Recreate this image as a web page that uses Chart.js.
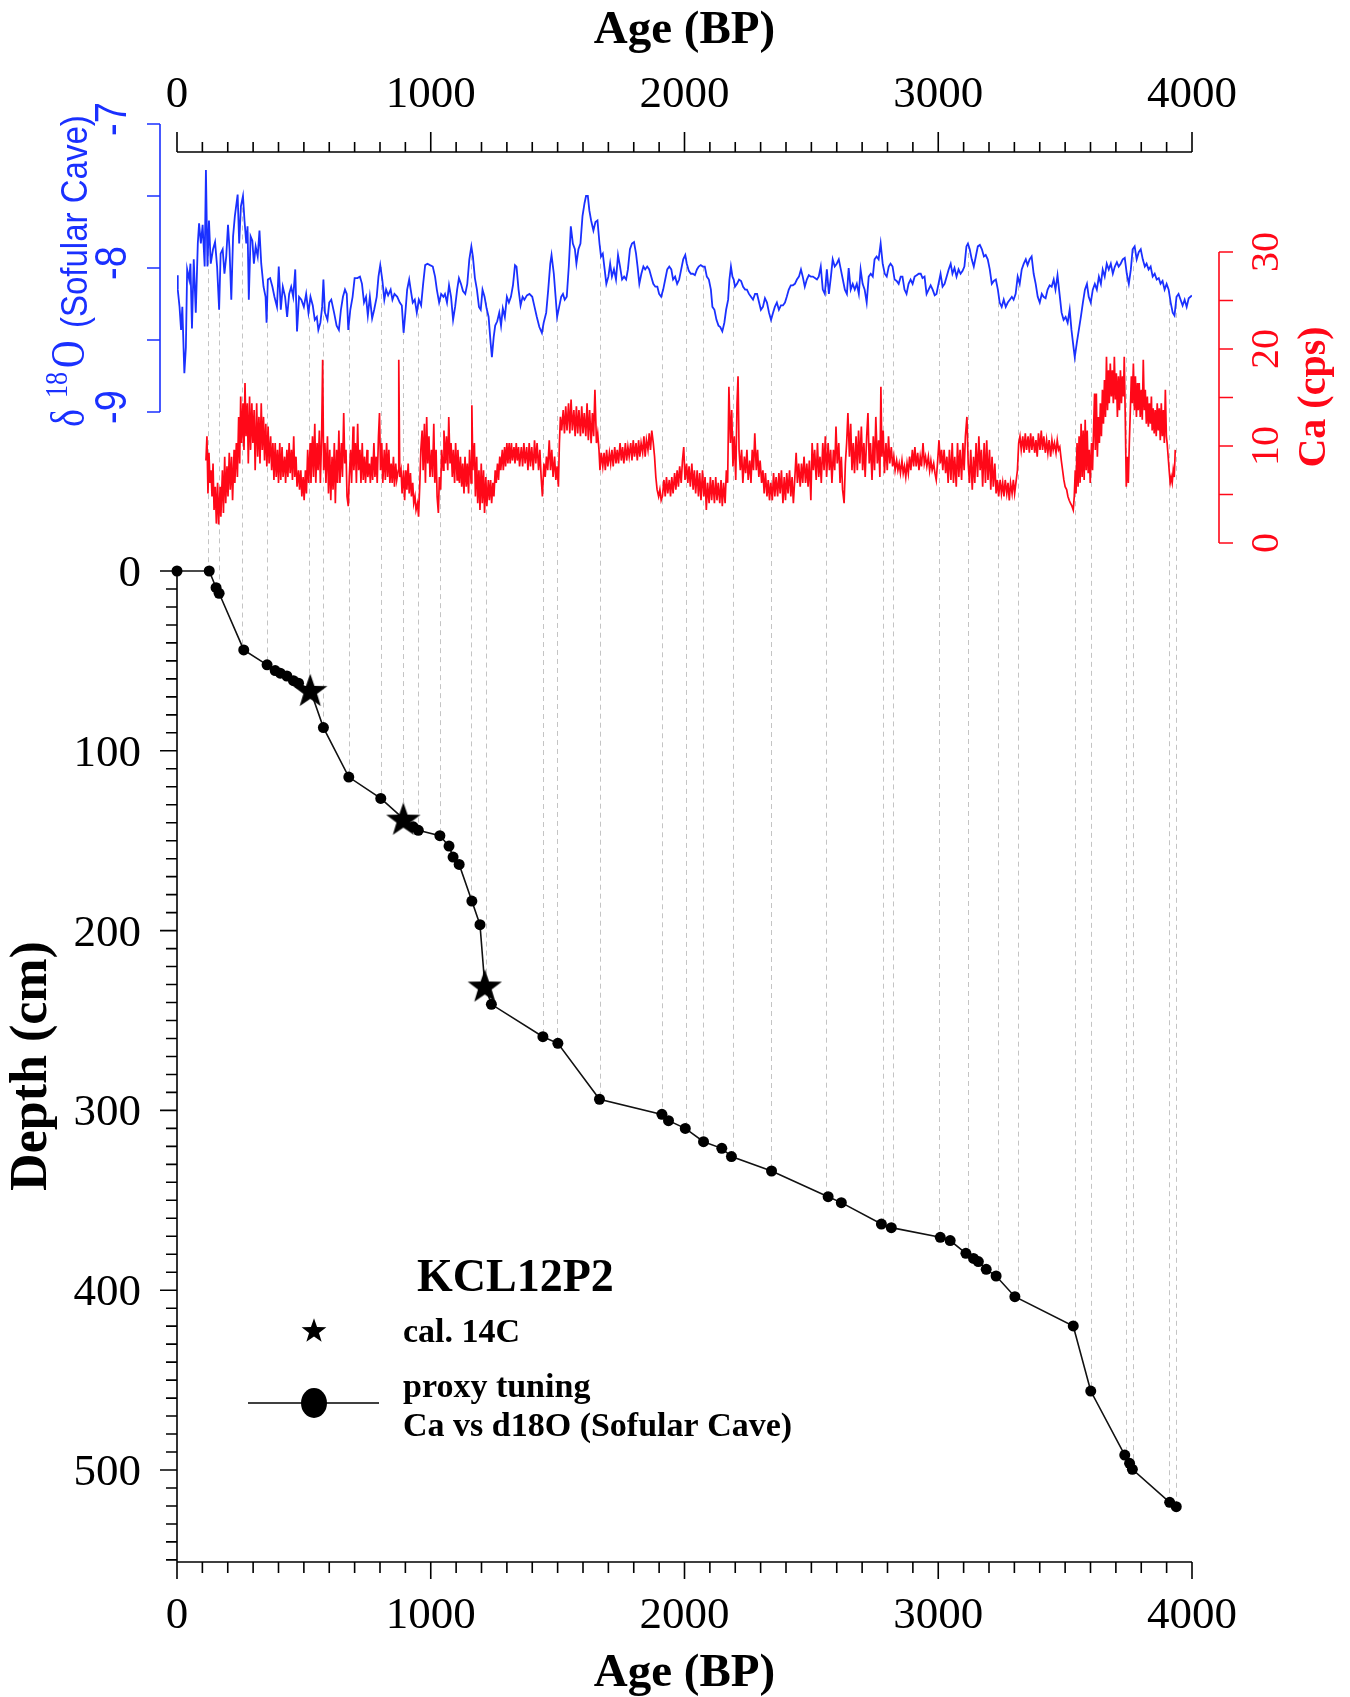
<!DOCTYPE html>
<html>
<head>
<meta charset="utf-8">
<script src="https://cdn.jsdelivr.net/npm/chart.js@4/dist/chart.umd.min.js"></script>
<style>
  html, body { margin: 0; padding: 0; background: #fff; }
  #wrap { width: 1350px; height: 1697px; }
</style>
</head>
<body>
<div id="wrap"><canvas id="chart" width="1350" height="1697"></canvas></div>
<script>
// Sofular Cave d18O [age BP, permil]
const d18O = [
  [0,-8.05],[3,-8.15],[10,-8.27],[16,-8.43],[21,-8.27],[27,-8.62],[29,-8.73],[35,-8.55],[40,-8.01],[48,-8.08],
  [53,-7.97],[59,-8.42],[66,-7.94],[74,-8.31],[82,-7.83],[87,-7.69],[94,-7.83],[101,-7.70],[109,-7.99],[114,-7.32],
  [120,-7.99],[126,-7.67],[133,-7.97],[142,-7.87],[150,-7.82],[158,-7.99],[166,-8.29],[172,-7.90],[180,-7.87],[187,-8.04],
  [194,-7.92],[201,-7.70],[207,-7.87],[214,-8.22],[221,-7.78],[228,-7.64],[239,-7.49],[245,-7.83],[252,-7.57],[260,-7.50],
  [266,-7.67],[273,-7.83],[278,-7.71],[283,-8.22],[290,-7.78],[297,-7.81],[303,-7.97],[310,-7.85],[318,-7.92],[325,-7.74],
  [332,-7.97],[341,-8.13],[349,-8.20],[353,-8.38],[358,-8.08],[367,-8.07],[376,-8.13],[384,-8.20],[394,-8.27],[401,-7.99],
  [409,-8.29],[417,-8.13],[426,-8.20],[434,-8.34],[442,-8.18],[450,-8.13],[458,-8.20],[466,-8.01],[473,-8.44],[481,-8.20],
  [490,-8.22],[500,-8.27],[509,-8.18],[518,-8.31],[526,-8.20],[535,-8.26],[543,-8.36],[551,-8.34],[557,-8.43],[565,-8.38],
  [572,-8.27],[577,-8.08],[583,-8.31],[593,-8.36],[600,-8.24],[608,-8.22],[619,-8.31],[629,-8.40],[638,-8.43],[646,-8.29],
  [654,-8.20],[662,-8.15],[669,-8.18],[675,-8.43],[683,-8.29],[692,-8.20],[700,-8.07],[711,-8.07],[721,-8.06],[729,-8.11],
  [737,-8.24],[745,-8.20],[752,-8.33],[760,-8.20],[769,-8.35],[777,-8.29],[787,-8.20],[794,-8.06],[801,-7.98],[809,-8.08],
  [817,-8.22],[824,-8.15],[832,-8.19],[842,-8.15],[849,-8.22],[857,-8.18],[868,-8.20],[878,-8.24],[886,-8.26],[893,-8.45],
  [900,-8.31],[907,-8.15],[915,-8.08],[921,-8.15],[929,-8.24],[937,-8.22],[945,-8.31],[953,-8.22],[962,-8.26],[970,-8.11],
  [978,-7.98],[987,-7.97],[997,-7.98],[1008,-7.99],[1017,-8.06],[1024,-8.15],[1033,-8.24],[1041,-8.18],[1050,-8.20],[1056,-8.18],
  [1064,-8.24],[1072,-8.12],[1080,-8.20],[1088,-8.36],[1096,-8.27],[1104,-8.15],[1111,-8.07],[1119,-8.11],[1127,-8.16],[1136,-8.18],
  [1144,-8.11],[1152,-7.94],[1160,-7.85],[1166,-7.92],[1174,-8.07],[1182,-8.15],[1190,-8.27],[1197,-8.29],[1204,-8.15],[1212,-8.20],
  [1220,-8.28],[1228,-8.34],[1236,-8.52],[1241,-8.62],[1248,-8.48],[1254,-8.40],[1262,-8.37],[1270,-8.31],[1277,-8.40],[1284,-8.28],
  [1292,-8.34],[1300,-8.20],[1308,-8.24],[1316,-8.20],[1324,-8.12],[1332,-7.98],[1338,-7.99],[1346,-8.15],[1354,-8.26],[1362,-8.20],
  [1369,-8.22],[1379,-8.19],[1389,-8.18],[1400,-8.20],[1409,-8.27],[1418,-8.34],[1428,-8.41],[1438,-8.45],[1445,-8.38],[1455,-8.31],
  [1463,-8.15],[1471,-7.97],[1476,-7.91],[1485,-8.04],[1492,-8.20],[1498,-8.34],[1506,-8.27],[1514,-8.20],[1521,-8.18],[1528,-8.22],
  [1536,-8.20],[1544,-7.99],[1552,-7.71],[1560,-7.83],[1568,-7.87],[1574,-7.97],[1582,-7.87],[1590,-7.83],[1598,-7.64],[1606,-7.55],
  [1612,-7.50],[1619,-7.50],[1625,-7.60],[1632,-7.67],[1641,-7.74],[1649,-7.68],[1657,-7.67],[1665,-7.83],[1671,-7.92],[1678,-7.90],
  [1684,-7.99],[1692,-8.11],[1700,-8.06],[1707,-7.97],[1714,-8.06],[1722,-8.01],[1730,-8.08],[1738,-7.91],[1746,-7.99],[1754,-8.08],
  [1762,-8.06],[1770,-8.08],[1777,-8.01],[1785,-7.87],[1793,-7.83],[1801,-7.82],[1809,-7.90],[1815,-7.99],[1822,-8.11],[1830,-8.04],
  [1838,-7.99],[1845,-8.01],[1853,-7.99],[1861,-8.01],[1869,-8.06],[1877,-8.11],[1885,-8.13],[1893,-8.13],[1900,-8.18],[1908,-8.20],
  [1916,-8.15],[1924,-8.08],[1932,-8.01],[1940,-7.99],[1948,-8.01],[1955,-8.08],[1963,-8.06],[1971,-8.11],[1979,-8.08],[1987,-8.01],
  [1995,-7.94],[2003,-7.91],[2009,-7.97],[2017,-8.02],[2025,-8.04],[2033,-8.04],[2041,-8.05],[2049,-8.01],[2056,-7.99],[2064,-7.98],
  [2072,-7.99],[2080,-7.99],[2088,-8.06],[2096,-8.08],[2104,-8.15],[2110,-8.27],[2118,-8.29],[2126,-8.36],[2134,-8.40],[2141,-8.41],
  [2149,-8.44],[2157,-8.38],[2164,-8.29],[2172,-8.22],[2177,-8.08],[2183,-7.99],[2189,-8.06],[2194,-8.08],[2199,-8.13],[2207,-8.11],
  [2215,-8.08],[2223,-8.09],[2231,-8.13],[2239,-8.15],[2246,-8.15],[2254,-8.18],[2262,-8.20],[2270,-8.22],[2278,-8.18],[2286,-8.18],
  [2294,-8.24],[2301,-8.29],[2309,-8.27],[2317,-8.21],[2325,-8.24],[2333,-8.31],[2341,-8.36],[2349,-8.31],[2356,-8.27],[2364,-8.24],
  [2372,-8.29],[2380,-8.26],[2388,-8.26],[2396,-8.24],[2403,-8.20],[2411,-8.15],[2419,-8.12],[2427,-8.12],[2435,-8.11],[2443,-8.08],
  [2451,-8.06],[2459,-8.01],[2466,-8.06],[2474,-8.13],[2482,-8.08],[2490,-8.05],[2498,-8.06],[2506,-8.06],[2514,-8.07],[2522,-8.08],
  [2529,-8.06],[2537,-7.99],[2545,-8.15],[2553,-8.18],[2561,-8.01],[2569,-8.18],[2577,-8.06],[2584,-7.94],[2592,-7.99],[2600,-7.97],
  [2608,-7.94],[2616,-8.01],[2624,-8.08],[2632,-8.15],[2640,-8.18],[2647,-8.00],[2655,-8.15],[2663,-8.11],[2671,-8.15],[2679,-8.11],
  [2687,-8.18],[2694,-8.01],[2702,-8.11],[2710,-8.15],[2718,-8.24],[2726,-8.06],[2734,-8.04],[2742,-8.06],[2749,-7.94],[2757,-7.92],
  [2765,-7.94],[2773,-7.83],[2781,-7.97],[2789,-8.04],[2797,-8.06],[2805,-7.99],[2812,-7.97],[2820,-7.99],[2828,-8.08],[2836,-8.09],
  [2844,-8.11],[2852,-8.06],[2859,-8.06],[2867,-8.15],[2875,-8.18],[2883,-8.11],[2891,-8.08],[2899,-8.11],[2907,-8.06],[2915,-8.05],
  [2923,-8.04],[2931,-8.04],[2938,-8.07],[2946,-8.06],[2954,-8.18],[2962,-8.15],[2970,-8.12],[2978,-8.15],[2986,-8.19],[2993,-8.18],
  [3001,-8.11],[3009,-8.04],[3017,-8.13],[3025,-8.11],[3033,-8.06],[3041,-8.01],[3049,-7.97],[3056,-8.04],[3064,-8.00],[3072,-8.06],
  [3080,-8.01],[3088,-8.04],[3096,-8.02],[3103,-7.99],[3111,-7.85],[3117,-7.83],[3124,-7.87],[3132,-7.94],[3140,-7.99],[3148,-7.92],
  [3156,-7.85],[3164,-7.84],[3172,-7.87],[3180,-7.92],[3187,-7.91],[3195,-7.94],[3203,-8.01],[3211,-8.11],[3219,-8.09],[3227,-8.08],
  [3235,-8.15],[3242,-8.24],[3250,-8.27],[3258,-8.22],[3266,-8.27],[3274,-8.24],[3282,-8.22],[3290,-8.20],[3297,-8.22],[3305,-8.18],
  [3313,-8.06],[3321,-8.11],[3329,-8.01],[3337,-7.97],[3345,-7.94],[3352,-7.98],[3360,-7.94],[3368,-7.92],[3376,-8.04],[3384,-8.11],
  [3392,-8.20],[3400,-8.24],[3408,-8.18],[3415,-8.20],[3423,-8.21],[3431,-8.15],[3439,-8.12],[3447,-8.13],[3455,-8.08],[3462,-8.15],
  [3470,-8.05],[3478,-8.18],[3486,-8.31],[3494,-8.36],[3502,-8.34],[3510,-8.38],[3518,-8.29],[3525,-8.43],[3533,-8.55],[3538,-8.62],
  [3546,-8.52],[3554,-8.43],[3562,-8.34],[3570,-8.24],[3578,-8.15],[3586,-8.11],[3593,-8.20],[3601,-8.24],[3609,-8.15],[3617,-8.11],
  [3625,-8.15],[3633,-8.06],[3641,-8.11],[3648,-8.01],[3656,-8.06],[3664,-7.97],[3672,-8.01],[3680,-7.97],[3688,-8.04],[3696,-7.99],
  [3704,-7.96],[3711,-7.99],[3719,-7.97],[3727,-7.94],[3735,-7.93],[3743,-8.04],[3751,-8.11],[3759,-8.01],[3766,-7.87],[3774,-7.85],
  [3782,-7.94],[3790,-7.89],[3798,-7.87],[3806,-7.94],[3814,-7.99],[3821,-7.97],[3829,-8.01],[3837,-7.99],[3845,-8.06],[3853,-8.04],
  [3861,-8.08],[3869,-8.07],[3876,-8.11],[3884,-8.09],[3892,-8.15],[3900,-8.11],[3908,-8.15],[3916,-8.24],[3924,-8.31],[3931,-8.33],
  [3939,-8.20],[3947,-8.18],[3955,-8.22],[3963,-8.26],[3971,-8.22],[3979,-8.27],[3987,-8.21],[3994,-8.20],[3999,-8.19]
];

// KCL12P2 XRF Ca [age BP, cps]
const caCps = [
  [114,8.5],[118,11.0],[122,5.1],[126,9.3],[130,6.2],[134,7.5],[138,4.8],[142,8.2],[146,3.4],[151,5.8],
  [155,2.0],[160,6.2],[164,1.9],[170,5.8],[173,2.7],[179,7.5],[183,3.1],[188,8.9],[192,4.1],[197,7.9],
  [201,4.8],[206,9.3],[210,5.5],[215,8.9],[219,4.4],[225,9.6],[228,6.2],[234,10.3],[238,6.8],[243,13.0],
  [247,8.2],[251,15.1],[255,10.3],[260,14.4],[264,9.6],[268,16.5],[272,11.0],[277,14.4],[281,8.2],[286,15.1],
  [290,9.6],[295,14.4],[299,10.3],[304,13.7],[308,7.5],[314,14.4],[318,8.9],[323,13.0],[327,8.2],[332,14.4],
  [336,9.6],[341,13.0],[345,8.5],[350,12.3],[354,7.9],[359,12.0],[363,8.2],[369,11.0],[373,7.5],[378,10.3],
  [382,6.5],[387,10.3],[391,6.8],[396,9.6],[400,6.2],[405,10.3],[409,6.5],[414,9.9],[418,6.8],[424,8.9],
  [428,6.2],[433,9.6],[437,6.8],[442,10.3],[446,7.2],[451,9.6],[455,6.5],[460,11.0],[464,6.8],[469,8.9],
  [473,5.8],[479,7.5],[483,5.5],[488,7.5],[492,4.8],[497,6.8],[501,4.4],[506,7.5],[510,5.1],[515,9.6],
  [519,6.2],[525,10.3],[528,6.2],[534,11.0],[538,6.8],[543,12.3],[547,6.2],[552,10.3],[556,7.5],[561,11.6],
  [565,6.2],[570,11.0],[574,18.9],[578,7.5],[583,10.3],[587,6.2],[593,11.0],[597,5.1],[602,9.6],[606,4.4],
  [611,8.9],[615,5.5],[620,10.3],[624,4.1],[629,9.6],[633,6.2],[638,11.6],[642,6.2],[648,10.3],[652,6.8],
  [657,13.4],[661,8.2],[666,9.6],[670,4.8],[675,3.8],[679,6.8],[684,9.6],[688,6.2],[694,12.0],[697,7.5],
  [703,10.3],[707,6.2],[712,12.3],[716,7.5],[721,9.6],[725,6.2],[730,10.3],[734,6.5],[739,8.9],[743,6.2],
  [749,9.6],[752,6.8],[758,8.2],[762,6.2],[767,8.9],[771,6.5],[776,10.3],[780,6.8],[785,8.9],[789,6.2],
  [794,11.0],[798,13.4],[802,7.5],[807,10.3],[811,6.2],[817,9.6],[821,6.5],[826,10.3],[830,6.8],[835,9.6],
  [839,6.2],[844,8.2],[848,6.2],[853,8.9],[857,5.8],[862,8.2],[866,6.5],[872,7.5],[874,18.9],[878,6.8],
  [883,7.5],[887,5.1],[893,7.5],[897,4.4],[902,7.5],[906,5.5],[911,8.2],[915,5.1],[920,7.2],[924,4.8],
  [929,6.2],[933,4.1],[938,4.8],[942,3.4],[948,4.1],[952,2.7],[957,6.2],[961,9.6],[966,11.6],[970,7.5],
  [975,12.3],[979,6.2],[984,13.0],[988,8.2],[993,11.0],[997,6.8],[1003,9.6],[1007,6.8],[1012,12.3],[1016,6.2],
  [1021,9.6],[1025,4.8],[1030,3.1],[1034,6.8],[1039,5.5],[1043,9.6],[1049,7.5],[1052,11.6],[1058,8.2],[1062,11.0],
  [1067,7.5],[1071,13.0],[1076,8.2],[1080,10.3],[1085,6.8],[1089,9.6],[1094,6.2],[1098,10.3],[1104,6.5],[1107,9.6],
  [1113,6.2],[1117,8.9],[1122,5.8],[1126,8.2],[1131,5.1],[1135,8.9],[1140,5.8],[1144,8.2],[1149,5.1],[1153,9.6],
  [1159,6.2],[1162,14.2],[1166,7.5],[1172,10.3],[1176,4.8],[1181,8.9],[1185,4.1],[1190,7.5],[1194,3.4],[1199,8.2],
  [1203,4.1],[1208,7.5],[1212,3.1],[1217,6.8],[1221,3.8],[1227,6.5],[1231,4.4],[1236,6.5],[1240,4.1],[1245,6.2],
  [1249,4.8],[1254,7.5],[1258,6.2],[1263,8.2],[1267,6.5],[1272,8.9],[1276,7.5],[1282,9.6],[1286,7.5],[1291,9.9],
  [1295,7.9],[1300,10.3],[1304,8.2],[1309,10.3],[1313,8.2],[1318,10.3],[1322,8.5],[1328,9.9],[1332,8.2],[1337,10.3],
  [1341,8.5],[1346,9.9],[1350,7.9],[1357,9.9],[1362,7.9],[1367,10.3],[1372,8.2],[1378,9.9],[1383,7.5],[1388,10.3],
  [1393,7.9],[1398,9.9],[1404,7.5],[1409,10.6],[1414,8.2],[1419,10.3],[1425,7.5],[1430,9.6],[1435,6.8],[1440,4.8],
  [1446,8.2],[1451,6.8],[1456,8.9],[1461,7.5],[1467,10.6],[1472,7.5],[1477,9.6],[1482,6.8],[1488,8.9],[1493,6.5],
  [1498,7.9],[1503,5.8],[1507,10.3],[1511,13.0],[1516,11.6],[1522,13.7],[1527,11.3],[1532,14.1],[1537,11.6],[1543,14.4],
  [1548,11.3],[1553,14.8],[1558,11.6],[1564,13.7],[1569,11.0],[1574,14.1],[1579,11.3],[1584,13.7],[1590,11.0],[1595,14.1],
  [1600,11.3],[1605,13.4],[1611,11.0],[1616,14.4],[1621,10.6],[1626,13.7],[1632,10.3],[1637,13.4],[1642,11.0],[1647,15.8],
  [1653,10.3],[1658,11.3],[1663,9.6],[1667,7.5],[1672,9.3],[1678,7.9],[1683,9.3],[1688,7.5],[1693,9.6],[1698,7.9],
  [1704,9.3],[1709,8.2],[1714,9.6],[1719,7.9],[1725,9.9],[1730,8.2],[1735,9.6],[1740,8.2],[1746,10.3],[1751,8.5],
  [1756,9.9],[1761,8.2],[1767,10.3],[1772,8.5],[1777,9.9],[1782,8.9],[1788,10.3],[1793,8.5],[1798,10.6],[1803,8.9],
  [1809,10.3],[1814,8.5],[1819,10.6],[1824,8.9],[1829,10.3],[1835,9.3],[1840,11.0],[1845,8.9],[1850,10.6],[1856,9.6],
  [1861,11.3],[1866,9.6],[1871,11.6],[1877,10.3],[1882,8.9],[1887,6.8],[1892,5.5],[1898,4.8],[1903,5.5],[1908,4.4],
  [1913,4.8],[1919,6.5],[1924,4.8],[1929,6.8],[1934,5.1],[1940,6.5],[1945,4.8],[1950,6.8],[1955,5.1],[1961,7.2],
  [1966,5.5],[1971,7.5],[1976,5.8],[1981,7.9],[1987,6.2],[1992,8.5],[1997,9.9],[2002,6.5],[2008,8.2],[2013,6.2],
  [2018,7.9],[2023,5.8],[2029,8.2],[2034,5.5],[2039,7.5],[2044,5.1],[2050,7.5],[2055,4.8],[2060,7.2],[2065,4.4],
  [2071,7.5],[2076,4.8],[2081,6.8],[2086,3.4],[2091,6.2],[2097,4.1],[2102,6.8],[2107,4.4],[2112,6.5],[2118,4.1],
  [2123,6.8],[2128,4.4],[2133,6.2],[2139,4.1],[2144,6.5],[2149,3.8],[2154,6.2],[2160,4.1],[2165,7.5],[2170,6.2],
  [2175,16.1],[2181,10.3],[2186,13.7],[2191,7.9],[2196,11.0],[2202,6.5],[2207,14.4],[2211,17.2],[2215,9.6],[2220,7.5],
  [2225,9.6],[2230,6.2],[2236,8.9],[2241,7.2],[2246,9.6],[2251,6.5],[2257,8.5],[2262,6.2],[2267,9.6],[2272,7.5],
  [2277,11.3],[2283,7.5],[2288,9.6],[2293,6.8],[2298,8.5],[2304,6.2],[2309,7.5],[2314,5.1],[2319,7.2],[2325,4.8],
  [2330,6.5],[2335,4.4],[2340,6.2],[2346,4.4],[2351,7.2],[2356,4.8],[2361,6.8],[2367,4.8],[2372,7.2],[2377,5.1],
  [2382,7.5],[2388,4.1],[2393,6.8],[2398,4.4],[2403,7.2],[2408,5.1],[2414,7.5],[2419,4.8],[2424,6.8],[2429,4.1],
  [2435,6.8],[2440,9.3],[2445,6.2],[2450,8.2],[2456,5.8],[2461,8.2],[2466,6.2],[2471,8.9],[2477,6.2],[2482,8.2],
  [2487,5.8],[2492,8.5],[2498,4.4],[2503,10.3],[2508,7.5],[2513,9.6],[2519,6.5],[2524,10.3],[2529,6.8],[2534,8.9],
  [2539,6.2],[2545,10.3],[2550,7.5],[2555,11.0],[2560,6.8],[2566,10.3],[2571,7.5],[2576,9.6],[2581,6.2],[2587,9.6],
  [2592,7.5],[2597,12.0],[2602,8.2],[2608,10.3],[2613,6.2],[2618,8.9],[2623,5.5],[2629,4.1],[2634,8.2],[2639,10.3],
  [2644,13.4],[2650,8.9],[2655,12.3],[2660,7.5],[2665,10.3],[2670,7.2],[2676,11.0],[2681,7.5],[2686,11.6],[2691,8.2],
  [2697,12.0],[2702,7.5],[2707,10.3],[2712,6.8],[2718,11.0],[2723,13.4],[2728,8.2],[2733,10.3],[2739,6.5],[2744,11.0],
  [2749,7.5],[2754,13.0],[2760,8.2],[2765,10.6],[2770,6.8],[2774,16.1],[2778,8.9],[2783,11.6],[2788,7.2],[2794,10.3],
  [2799,7.5],[2804,11.0],[2809,8.2],[2815,9.9],[2820,7.9],[2825,8.9],[2830,7.5],[2836,8.5],[2841,7.5],[2846,8.2],
  [2851,7.2],[2857,8.5],[2862,7.2],[2867,7.9],[2872,6.8],[2877,8.2],[2882,7.2],[2887,8.9],[2892,7.5],[2898,9.6],
  [2903,7.9],[2908,9.9],[2913,7.9],[2919,9.3],[2924,7.5],[2929,8.9],[2934,7.9],[2940,10.3],[2945,8.2],[2950,8.9],
  [2955,7.9],[2961,8.9],[2966,7.5],[2971,8.5],[2976,7.5],[2982,8.2],[2987,7.2],[2992,6.5],[2997,8.2],[3003,10.6],
  [3008,8.2],[3013,9.6],[3018,7.5],[3023,9.6],[3029,7.2],[3034,8.9],[3039,6.2],[3044,9.6],[3050,6.5],[3055,10.3],
  [3060,6.2],[3065,8.9],[3071,5.8],[3076,10.3],[3081,6.8],[3086,9.6],[3092,6.5],[3097,10.3],[3102,7.5],[3107,11.0],
  [3113,13.0],[3118,8.2],[3123,6.2],[3128,9.6],[3134,5.5],[3139,8.9],[3144,6.2],[3149,10.3],[3155,6.8],[3160,11.0],
  [3165,7.5],[3170,9.6],[3175,5.8],[3181,10.3],[3186,6.2],[3191,10.6],[3196,6.5],[3202,9.6],[3207,5.5],[3212,8.9],
  [3217,5.8],[3223,8.2],[3228,5.1],[3233,6.5],[3238,4.8],[3244,6.5],[3249,5.1],[3254,6.2],[3259,4.8],[3264,6.5],
  [3270,5.1],[3275,6.2],[3280,4.4],[3285,6.2],[3291,5.1],[3296,6.5],[3301,5.1],[3306,6.2],[3312,7.5],[3317,10.3],
  [3322,11.0],[3327,9.6],[3333,11.0],[3338,9.3],[3343,11.3],[3348,9.6],[3354,11.0],[3359,9.3],[3364,11.3],[3369,9.6],
  [3374,11.0],[3380,9.3],[3385,10.6],[3390,8.9],[3395,11.3],[3401,9.6],[3406,11.6],[3411,9.6],[3416,11.0],[3422,9.3],
  [3427,10.6],[3432,9.3],[3437,10.6],[3443,8.9],[3448,10.6],[3453,9.6],[3458,10.3],[3464,9.3],[3469,10.6],[3474,9.6],
  [3479,9.9],[3485,8.5],[3490,7.5],[3495,6.5],[3500,5.8],[3506,5.5],[3511,4.8],[3516,4.4],[3521,4.1],[3527,3.8],
  [3532,3.4],[3536,4.8],[3540,7.5],[3543,5.1],[3547,10.3],[3551,5.8],[3555,11.0],[3559,6.2],[3563,12.3],[3567,6.8],
  [3571,11.6],[3575,6.5],[3579,12.7],[3583,7.5],[3587,11.6],[3591,7.2],[3595,9.6],[3599,6.2],[3604,10.3],[3608,7.5],
  [3612,11.6],[3616,15.4],[3619,9.6],[3623,15.4],[3627,8.9],[3631,13.0],[3635,10.3],[3639,14.4],[3643,11.0],[3647,15.8],
  [3651,12.3],[3655,16.8],[3659,13.0],[3663,19.2],[3667,13.7],[3671,17.8],[3674,14.4],[3678,18.5],[3682,15.1],[3686,17.8],
  [3690,14.4],[3694,19.2],[3698,14.8],[3702,17.5],[3706,13.0],[3710,17.2],[3714,13.7],[3718,17.8],[3722,14.4],[3726,17.2],
  [3730,15.1],[3733,19.2],[3737,13.0],[3741,5.8],[3745,8.9],[3749,6.2],[3753,10.3],[3757,13.7],[3761,17.2],[3765,14.4],
  [3769,18.5],[3773,13.7],[3777,17.2],[3781,13.0],[3785,16.5],[3788,13.7],[3792,16.5],[3796,13.0],[3800,15.8],[3804,12.7],
  [3808,18.9],[3812,13.7],[3816,15.8],[3820,12.3],[3824,15.1],[3828,12.0],[3832,14.4],[3836,12.3],[3840,15.1],[3843,11.6],
  [3847,13.9],[3851,11.3],[3855,13.7],[3859,11.0],[3863,14.4],[3867,11.6],[3871,13.9],[3875,10.6],[3879,14.4],[3883,11.0],
  [3887,13.7],[3891,10.3],[3895,15.8],[3899,11.0],[3902,10.3],[3906,8.9],[3910,7.5],[3914,6.2],[3918,6.8],[3922,6.2],
  [3926,7.5],[3930,6.8],[3934,9.6]
];

// age model tie points: proxy tuning [age BP, depth cm]
const tuningPts = [
  [0,0],[127,0],[154,9.3],[166,12.4],[263,43.9],[355,52.2],[387,55.4],[407,56.8],[433,58.4],[459,61.0],[479,62.4],
  [577,87.1],[677,114.6],[803,126.5],[931,142.3],[951,144.2],[1036,147.2],[1072,153.0],[1088,159.1],[1112,163.2],
  [1162,183.6],[1194,196.7],[1239,241.0],[1442,259.0],[1501,262.7],[1665,293.8],[1911,302.2],[1937,305.7],[2003,310.0],
  [2075,317.4],[2147,321.1],[2185,325.7],[2343,333.7],[2566,348.0],[2618,351.3],[2776,363.2],[2815,365.2],[3008,370.6],
  [3047,372.4],[3109,379.5],[3139,382.3],[3158,384.1],[3189,388.4],[3228,392.1],[3302,403.6],[3532,419.9],[3601,456.1],
  [3735,491.7],[3754,496.3],[3765,499.6],[3912,518.0],[3938,520.4]
];
// calibrated radiocarbon dates [age BP, depth cm]
const c14Pts = [[525,66.1],[892,137.7],[1213,230.5]];

// ages of the dashed correlation lines
const tieLineAges = [
  122,165,258,355,520,577,676,802,890,950,1038,1160,1216,1442,1498,1666,1913,2005,2073,2191,
  2339,2557,2781,2823,3004,3116,3237,3313,3538,3600,3740,3769,3909,3936
];

const ageTicks = [0, 1000, 2000, 3000, 4000];
const depthTicks = [0, 100, 200, 300, 400, 500];
const d18OTicks = [-7, -8, -9];
const caTicks = [0, 10, 20, 30];

// ---- layout (pixels) ----
const AREA = { left: 177, right: 1192, top: 124, bottom: 1562 };
const serif = '"Liberation Serif", "Times New Roman", serif';
const sans = '"Liberation Sans", Arial, sans-serif';
const BLUE = '#1a30ff';
const RED = '#ff0818';

// min/max so that value v1 sits at pixel p1 and v2 at p2 (top->bottom area)
function fitRange(v1, p1, v2, p2) {
  const per = (v2 - v1) / (p2 - p1);
  const atTop = v1 + (AREA.top - p1) * per;
  const atBottom = v1 + (AREA.bottom - p1) * per;
  return [atTop, atBottom];
}
const depthRange = fitRange(0, 571, 500, 1470);
const oRange = fitRange(-7, 124, -9, 412);
const caRange = fitRange(30, 252, 0, 543);

function interp(arr, x) {
  if (x <= arr[0][0]) return arr[0][1];
  for (let i = 1; i < arr.length; i++) {
    if (x <= arr[i][0]) {
      const [x0, y0] = arr[i - 1], [x1, y1] = arr[i];
      return y0 + (y1 - y0) * (x - x0) / (x1 - x0);
    }
  }
  return arr[arr.length - 1][1];
}

function makeStar(r) {
  const c = document.createElement('canvas');
  c.width = c.height = Math.ceil(2 * r + 2);
  const g = c.getContext('2d');
  const cx = c.width / 2, cy = c.height / 2 + r * 0.1;
  g.beginPath();
  for (let i = 0; i < 10; i++) {
    const ang = -Math.PI / 2 + i * Math.PI / 5;
    const rad = i % 2 ? r * 0.4 : r;
    g.lineTo(cx + rad * Math.cos(ang), cy + rad * Math.sin(ang));
  }
  g.closePath();
  g.fillStyle = '#000';
  g.fill();
  return c;
}
const starBig = makeStar(18);
const starSmall = makeStar(13);

const toXY = (arr) => arr.map(([x, y]) => ({ x, y }));
const agePath = [...tuningPts, ...c14Pts].sort((a, b) => a[0] - b[0] || a[1] - b[1]);

// text turned to read bottom-to-top; stretch widens glyphs across the page
function rotText(ctx, text, x, y, font, color, align, stretch) {
  ctx.save();
  ctx.translate(x, y);
  ctx.rotate(-Math.PI / 2);
  if (stretch) ctx.scale(1, stretch);
  ctx.font = font;
  ctx.fillStyle = color;
  ctx.textAlign = align || 'center';
  ctx.textBaseline = 'alphabetic';
  ctx.fillText(text, 0, 0);
  ctx.restore();
}

const tieLinesPlugin = {
  id: 'tieLines',
  beforeDatasetsDraw(chart) {
    const { ctx, scales } = chart;
    ctx.save();
    ctx.strokeStyle = '#c4c4c4';
    ctx.lineWidth = 1;
    ctx.setLineDash([5, 4]);
    tieLineAges.forEach((age) => {
      const px = scales.x.getPixelForValue(age);
      const y1 = scales.yO.getPixelForValue(interp(d18O, age));
      const y2 = scales.yDepth.getPixelForValue(interp(agePath, age));
      ctx.beginPath();
      ctx.moveTo(Math.round(px) + 0.5, y1);
      ctx.lineTo(Math.round(px) + 0.5, y2);
      ctx.stroke();
    });
    ctx.restore();
  }
};

const axesPlugin = {
  id: 'axes',
  afterDraw(chart) {
    const { ctx, chartArea: a, scales } = chart;
    const { x, yDepth, yO, yCa } = scales;
    const x0 = x.getPixelForValue(0), x4 = x.getPixelForValue(4000);
    ctx.save();
    ctx.lineCap = 'butt';

    // bottom age axis
    ctx.strokeStyle = '#000';
    ctx.lineWidth = 1.6;
    ctx.beginPath();
    ctx.moveTo(x0, a.bottom); ctx.lineTo(x4, a.bottom);
    for (let v = 0; v <= 4000; v += 100) {
      const px = x.getPixelForValue(v);
      ctx.moveTo(px, a.bottom); ctx.lineTo(px, a.bottom + (v % 1000 === 0 ? 17 : 11));
    }
    // top age axis
    const yt = a.top + 28;
    ctx.moveTo(x0, yt); ctx.lineTo(x4, yt);
    for (let v = 0; v <= 4000; v += 100) {
      const px = x.getPixelForValue(v);
      ctx.moveTo(px, yt); ctx.lineTo(px, yt - (v % 1000 === 0 ? 20 : 10));
    }
    // depth axis
    const yd0 = yDepth.getPixelForValue(0);
    ctx.moveTo(x0, yd0); ctx.lineTo(x0, a.bottom);
    for (let d = 0; d <= 550; d += 10) {
      const py = yDepth.getPixelForValue(d);
      ctx.moveTo(x0, py); ctx.lineTo(x0 - (d % 100 === 0 ? 17 : 11), py);
    }
    ctx.stroke();

    ctx.fillStyle = '#000';
    ctx.font = '45px ' + serif;
    ctx.textAlign = 'center';
    ctx.textBaseline = 'alphabetic';
    ageTicks.forEach((v) => {
      const px = x.getPixelForValue(v);
      ctx.fillText(String(v), px, a.bottom + 66);
      ctx.fillText(String(v), px, yt - 45);
    });
    ctx.textAlign = 'right';
    depthTicks.forEach((d) => {
      ctx.fillText(String(d), x0 - 36, yDepth.getPixelForValue(d) + 15);
    });
    ctx.font = 'bold 47px ' + serif;
    ctx.textAlign = 'center';
    ctx.fillText('Age (BP)', (x0 + x4) / 2, 43);
    ctx.fillText('Age (BP)', (x0 + x4) / 2, a.bottom + 124);
    rotText(ctx, 'Depth (cm)', 46, 1066, 'bold 52px ' + serif, '#000');

    // d18O axis (left, blue)
    const xo = a.left - 17;
    ctx.strokeStyle = BLUE;
    ctx.lineWidth = 1.6;
    ctx.beginPath();
    ctx.moveTo(xo, yO.getPixelForValue(-7)); ctx.lineTo(xo, yO.getPixelForValue(-9));
    for (let v = -7; v >= -9; v -= 0.5) {
      const py = yO.getPixelForValue(v);
      ctx.moveTo(xo, py); ctx.lineTo(xo - 13, py);
    }
    ctx.stroke();
    d18OTicks.forEach((v) => {
      rotText(ctx, String(v), 126, yO.getPixelForValue(v) - 5, '38px ' + sans, BLUE, 'center', 1.15);
    });
    rotText(ctx, '\u03b4', 84, 427, '38px ' + serif, BLUE, 'left', 1.3);
    rotText(ctx, '18', 67, 398, '26px ' + serif, BLUE, 'left', 1.2);
    rotText(ctx, 'O', 84, 368, '38px ' + serif, BLUE, 'left', 1.3);
    rotText(ctx, '(Sofular Cave)', 87, 328, '33px ' + sans, BLUE, 'left', 1.1);

    // Ca axis (right, red)
    const xc = a.right + 27;
    ctx.strokeStyle = RED;
    ctx.beginPath();
    ctx.moveTo(xc, yCa.getPixelForValue(0)); ctx.lineTo(xc, yCa.getPixelForValue(30));
    for (let v = 0; v <= 30; v += 5) {
      const py = yCa.getPixelForValue(v);
      ctx.moveTo(xc, py); ctx.lineTo(xc + 14, py);
    }
    ctx.stroke();
    caTicks.forEach((v) => {
      rotText(ctx, String(v), 1278, yCa.getPixelForValue(v), '40px ' + serif, RED);
    });
    rotText(ctx, 'Ca (cps)', 1325, 397, 'bold 40px ' + serif, RED);

    // legend
    ctx.fillStyle = '#000';
    ctx.textAlign = 'left';
    ctx.font = 'bold 46px ' + serif;
    ctx.fillText('KCL12P2', 417, 1291);
    ctx.drawImage(starSmall, 314 - starSmall.width / 2, 1330 - starSmall.height / 2);
    ctx.font = 'bold 34px ' + serif;
    ctx.fillText('cal. 14C', 403, 1342);
    ctx.fillText('proxy tuning', 403, 1397);
    ctx.fillText('Ca vs d18O (Sofular Cave)', 403, 1436);
    ctx.strokeStyle = '#000';
    ctx.lineWidth = 1.6;
    ctx.beginPath();
    ctx.moveTo(248, 1403); ctx.lineTo(379, 1403);
    ctx.stroke();
    ctx.beginPath();
    ctx.ellipse(314, 1403, 13, 15, 0, 0, Math.PI * 2);
    ctx.fill();
    ctx.restore();
  }
};

new Chart(document.getElementById('chart'), {
  type: 'scatter',
  data: {
    datasets: [
      {
        label: 'cal. 14C', data: toXY(c14Pts), yAxisID: 'yDepth', order: 0,
        showLine: false, pointStyle: starBig, pointRadius: 18, clip: false
      },
      {
        label: 'proxy tuning', data: toXY(tuningPts), yAxisID: 'yDepth', order: 1,
        showLine: false, pointStyle: 'circle', pointRadius: 5.5,
        pointBackgroundColor: '#000', pointBorderColor: '#000', pointBorderWidth: 0, clip: false
      },
      {
        label: 'age model', data: toXY(agePath), yAxisID: 'yDepth', order: 2,
        showLine: true, borderColor: '#111', borderWidth: 1.6, pointRadius: 0, tension: 0
      },
      {
        label: 'd18O', data: toXY(d18O), yAxisID: 'yO', order: 3,
        showLine: true, borderColor: BLUE, borderWidth: 1.8, pointRadius: 0, tension: 0
      },
      {
        label: 'Ca', data: toXY(caCps), yAxisID: 'yCa', order: 4,
        showLine: true, borderColor: RED, borderWidth: 1.7, pointRadius: 0, tension: 0
      }
    ]
  },
  options: {
    responsive: false,
    animation: false,
    events: [],
    layout: {
      padding: { left: AREA.left, right: 1350 - AREA.right, top: AREA.top, bottom: 1697 - AREA.bottom }
    },
    plugins: { legend: { display: false }, tooltip: { enabled: false } },
    scales: {
      x: { type: 'linear', min: 0, max: 4000, display: false },
      yDepth: { type: 'linear', reverse: true, min: depthRange[0], max: depthRange[1], display: false },
      yO: { type: 'linear', min: oRange[1], max: oRange[0], display: false },
      yCa: { type: 'linear', min: caRange[1], max: caRange[0], display: false }
    }
  },
  plugins: [tieLinesPlugin, axesPlugin]
});
</script>
</body>
</html>
